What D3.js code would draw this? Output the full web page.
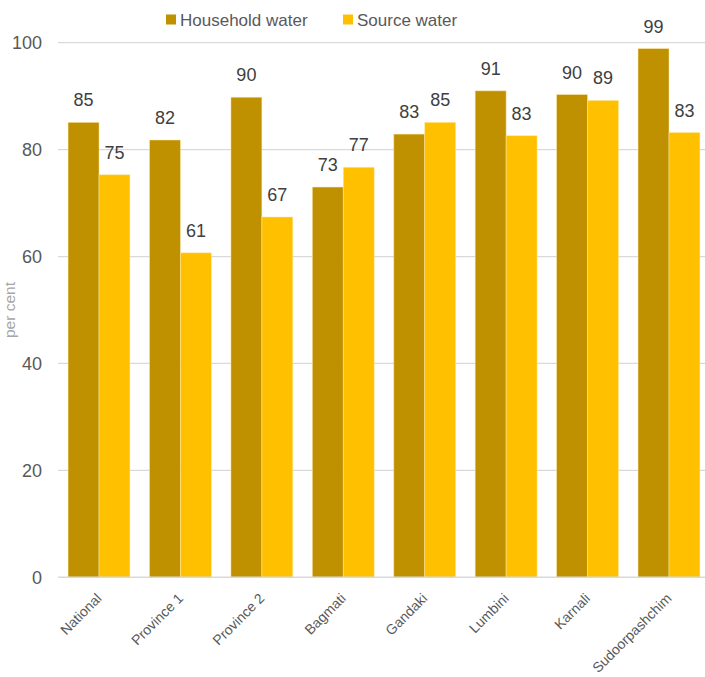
<!DOCTYPE html>
<html>
<head>
<meta charset="utf-8">
<script src="https://cdn.jsdelivr.net/npm/d3@7"></script>
<style>
  html, body { margin: 0; padding: 0; background: #fff; }
  svg { display: block; font-family: "Liberation Sans", Arial, sans-serif; }
</style>
</head>
<body>
<svg id="chart" width="705" height="677"></svg>
<script>
// Water quality compliance by province (per cent)
const categories = ["National", "Province 1", "Province 2", "Bagmati", "Gandaki", "Lumbini", "Karnali", "Sudoorpashchim"];
const seriesNames = ["Household water", "Source water"];
const householdWater = [85.1, 81.8, 89.8, 73.0, 82.9, 91.0, 90.3, 98.9];
const sourceWater = [75.3, 60.7, 67.4, 76.7, 85.1, 82.6, 89.2, 83.2];
const yTicks = [0, 20, 40, 60, 80, 100];
const colors = ["#BF9000", "#FFC000"];

const svg = d3.select("#chart");
const yBottom = 577.3, yTop = 42.7;
const plotLeft = 58, plotRight = 710;

const x = d3.scaleBand()
  .domain(categories)
  .range([58.3, 709.7])
  .paddingInner(0.24)
  .paddingOuter(0.12);

const x1 = d3.scaleBand()
  .domain(seriesNames)
  .range([0, x.bandwidth()]);

const y = d3.scaleLinear().domain([0, 100]).range([yBottom, yTop]);

// horizontal gridlines
svg.append("g")
  .selectAll("line")
  .data(yTicks.filter(t => t !== 0))
  .join("line")
  .attr("x1", plotLeft).attr("x2", plotRight)
  .attr("y1", d => y(d)).attr("y2", d => y(d))
  .attr("stroke", "#d9d9d9").attr("stroke-width", 1.3);

// y axis labels
const yAxis = d3.axisLeft(y).tickValues(yTicks).tickSize(0).tickPadding(0);
const yg = svg.append("g").attr("transform", "translate(42,0)").call(yAxis);
yg.select(".domain").remove();
yg.selectAll("text")
  .attr("fill", "#595959")
  .style("font-size", "18px");

svg.append("text")
  .attr("transform", "translate(15,310) rotate(-90)")
  .attr("text-anchor", "middle")
  .attr("fill", "#a6a6a6")
  .style("font-size", "15.5px")
  .text("per cent");

const data = categories.map((c, i) => ({ cat: c, values: [householdWater[i], sourceWater[i]] }));

const groups = svg.append("g")
  .selectAll("g")
  .data(data)
  .join("g")
  .attr("transform", d => `translate(${x(d.cat)},0)`);

groups.selectAll("rect")
  .data(d => d.values.map((v, j) => ({ v, s: seriesNames[j], j })))
  .join("rect")
  .attr("x", d => x1(d.s))
  .attr("y", d => y(d.v))
  .attr("width", x1.bandwidth())
  .attr("height", d => y(0) - y(d.v))
  .attr("fill", d => colors[d.j])
  .attr("stroke", "#ffe9a8")
  .attr("stroke-opacity", 0.6)
  .attr("stroke-width", 0.8);

groups.selectAll("text.val")
  .data(d => d.values.map((v, j) => ({ v, s: seriesNames[j] })))
  .join("text")
  .attr("class", "val")
  .attr("x", d => x1(d.s) + x1.bandwidth() / 2)
  .attr("y", d => y(d.v) - 16)
  .attr("text-anchor", "middle")
  .attr("fill", "#404040")
  .style("font-size", "18px")
  .text(d => d3.format(".0f")(d.v));

// baseline
svg.append("line")
  .attr("x1", plotLeft).attr("x2", plotRight)
  .attr("y1", y(0)).attr("y2", y(0))
  .attr("stroke", "#d9d9d9").attr("stroke-width", 1.5);

// category labels
const xAxis = d3.axisBottom(x).tickSize(0).tickPadding(0);
const xg = svg.append("g").attr("transform", `translate(0,${y(0)})`).call(xAxis);
xg.select(".domain").remove();
xg.selectAll("text")
  .attr("fill", "#595959")
  .style("font-size", "14px")
  .attr("text-anchor", "end")
  .attr("dy", null)
  .attr("y", 0)
  .attr("transform", "translate(3.5,22) rotate(-45)");

// legend
const legend = svg.append("g");
const legendX = [166, 343];
seriesNames.forEach((name, i) => {
  const g = legend.append("g").attr("transform", `translate(${legendX[i]},0)`);
  g.append("rect").attr("x", 0).attr("y", 14.5).attr("width", 10).attr("height", 10).attr("fill", colors[i]);
  g.append("text").attr("x", 14).attr("y", 25.5)
    .attr("fill", "#595959").style("font-size", "17px").text(name);
});
</script>
</body>
</html>
